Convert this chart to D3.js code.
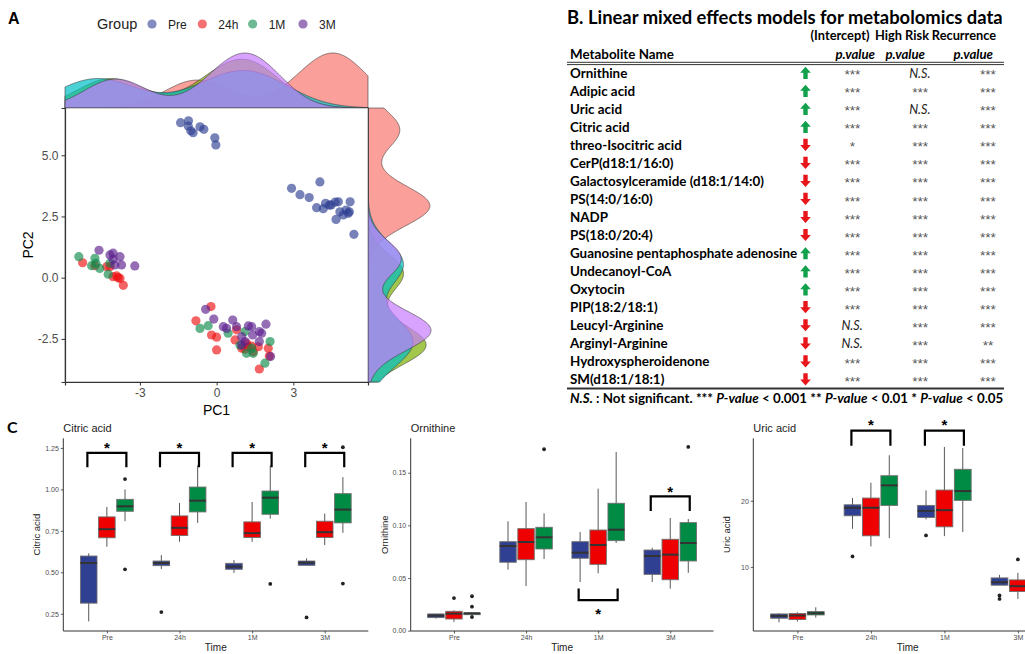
<!DOCTYPE html>
<html>
<head>
<meta charset="utf-8">
<script src="https://cdn.jsdelivr.net/npm/d3@7"></script>
<style>
  body { margin: 0; background: #fff; }
  svg { display: block; font-family: "Liberation Sans", Arial, sans-serif; }
  .tbl text { font-family: Lato, "Open Sans", sans-serif; }
  .tbl text.stars { font-family: "Liberation Sans", Arial, sans-serif; }
</style>
</head>
<body>
<svg id="fig" width="1025" height="654"></svg>
<script>
// ---------------- panel A: PCA scores ----------------
const groups = ["Pre", "24h", "1M", "3M"];
const pcaPre = [
  [-1.41, 6.33], [-1.10, 6.41], [-1.11, 6.19], [-1.01, 6.00], [-0.92, 5.92], [-0.65, 6.16], [-0.50, 6.06],
  [-0.07, 5.71], [-0.03, 5.42],
  [2.93, 3.65], [3.26, 3.39], [3.62, 3.27], [4.04, 3.91], [3.91, 2.86], [4.17, 2.82], [4.26, 3.04],
  [4.41, 2.96], [4.48, 2.97], [4.64, 3.09], [4.76, 3.10], [4.67, 2.38], [4.82, 2.69], [4.95, 2.56],
  [5.06, 2.76], [5.15, 2.63], [5.22, 3.10], [5.19, 2.69], [5.37, 1.77]
];
const pca24h = [
  [-5.24, 0.61], [-4.76, 0.49], [-4.30, 0.45], [-4.17, 0.45], [-4.05, 0.04], [-3.91, 0.07], [-3.85, 0.00],
  [-3.78, -0.03], [-3.65, -0.31],
  [-0.22, -1.18], [-0.81, -1.76], [-0.20, -2.34], [0.00, -2.43], [0.00, -2.95], [0.78, -2.13], [0.72, -2.54],
  [0.98, -2.88], [1.11, -2.92], [1.17, -2.68], [1.24, -2.82], [1.37, -2.79], [1.43, -3.02], [1.63, -2.82],
  [1.67, -3.73], [2.02, -2.88], [2.06, -3.20]
];
const pca1M = [
  [-5.39, 0.86], [-4.76, 0.79], [-4.89, 0.49], [-4.72, 0.59], [-4.57, 0.38], [-4.24, 0.14], [-4.17, 0.59],
  [-0.65, -2.07], [-0.33, -1.96], [0.45, -2.27], [0.91, -2.75], [1.11, -2.20], [1.17, -3.09], [1.43, -3.09],
  [1.89, -3.49], [2.09, -2.61], [1.37, -2.88]
];
const pca3M = [
  [-4.60, 1.12], [-4.17, 0.93], [-4.05, 1.00], [-3.78, 0.86], [-3.72, 0.52], [-3.98, 0.52], [-3.20, 0.48],
  [-4.05, 0.75],
  [-0.43, -1.29], [-0.11, -1.69], [0.26, -2.00], [0.39, -2.07], [0.63, -1.73], [0.78, -2.00], [0.98, -2.41],
  [1.24, -1.97], [1.37, -2.00], [1.41, -2.34], [1.67, -2.20], [1.76, -2.27], [1.67, -2.61], [1.93, -1.90],
  [2.11, -3.22], [1.11, -2.61], [0.98, -2.75]
];
const pcaXTicks = [-3, 0, 3];
const pcaYTicks = [-2.5, 0, 2.5, 5];

// ---------------- panel B: mixed model table ----------------
const metabolites = [
  "Ornithine", "Adipic acid", "Uric acid", "Citric acid", "threo-Isocitric acid", "CerP(d18:1/16:0)",
  "Galactosylceramide (d18:1/14:0)", "PS(14:0/16:0)", "NADP", "PS(18:0/20:4)",
  "Guanosine pentaphosphate adenosine", "Undecanoyl-CoA", "Oxytocin", "PIP(18:2/18:1)",
  "Leucyl-Arginine", "Arginyl-Arginine", "Hydroxyspheroidenone", "SM(d18:1/18:1)"
];
const direction = ["up", "up", "up", "up", "down", "down", "down", "down", "down", "down",
  "up", "up", "up", "down", "down", "down", "down", "down"];
const pIntercept = ["***", "***", "***", "***", "*", "***", "***", "***", "***", "***",
  "***", "***", "***", "***", "N.S.", "N.S.", "***", "***"];
const pHighRisk = ["N.S.", "***", "N.S.", "***", "***", "***", "***", "***", "***", "***",
  "***", "***", "***", "***", "***", "***", "***", "***"];
const pRecurrence = ["***", "***", "***", "***", "***", "***", "***", "***", "***", "***",
  "***", "***", "***", "***", "***", "**", "***", "***"];
const tableCols = ["(Intercept)", "High Risk", "Recurrence"];

// ---------------- panel C: box plot summaries [lower, q1, median, q3, upper, outliers] ----------------
const times = ["Pre", "24h", "1M", "3M"];
const boxSeries = ["G1", "G2", "G3"];
const citricStats = [
  [[0.204, 0.314, 0.556, 0.598, 0.614, []], [0.654, 0.708, 0.760, 0.834, 0.894, []], [0.808, 0.868, 0.898, 0.940, 1.000, [1.062, 0.518]]],
  [[0.520, 0.540, 0.556, 0.568, 0.604, [0.260]], [0.684, 0.722, 0.768, 0.840, 0.918, []], [0.798, 0.864, 0.932, 1.014, 1.145, []]],
  [[0.496, 0.518, 0.534, 0.554, 0.574, []], [0.684, 0.710, 0.736, 0.804, 0.924, []], [0.824, 0.850, 0.950, 0.990, 1.145, [0.430]]],
  [[0.542, 0.542, 0.558, 0.568, 0.584, [0.228]], [0.664, 0.710, 0.742, 0.808, 0.854, []], [0.738, 0.798, 0.878, 0.974, 1.074, [1.254, 0.432]]]
];
const ornithineStats = [
  [[0.0115, 0.0124, 0.0143, 0.0159, 0.0160, []], [0.0083, 0.0111, 0.0162, 0.0184, 0.0194, [0.031]], [0.0150, 0.0152, 0.0165, 0.0168, 0.0170, [0.0327, 0.0228, 0.013]]],
  [[0.058, 0.065, 0.0804, 0.0845, 0.1039, []], [0.0424, 0.0674, 0.0842, 0.0969, 0.1222, []], [0.0681, 0.0776, 0.0887, 0.0982, 0.1115, [0.1723]]],
  [[0.0462, 0.0688, 0.0741, 0.0845, 0.0937, []], [0.0545, 0.063, 0.0814, 0.0956, 0.1349, []], [0.0833, 0.0855, 0.0959, 0.121, 0.1697, []]],
  [[0.0462, 0.0535, 0.0709, 0.0766, 0.0788, []], [0.0399, 0.0484, 0.0722, 0.0868, 0.107, []], [0.055, 0.0662, 0.0833, 0.1026, 0.106, [0.1745]]]
];
const uricStats = [
  [[1.62, 2.23, 2.58, 2.88, 2.98, []], [1.73, 2.03, 2.64, 2.94, 3.14, []], [2.33, 2.73, 2.98, 3.24, 3.89, []]],
  [[15.76, 17.73, 18.94, 19.39, 20.41, [11.58]], [13.09, 14.70, 18.94, 20.41, 22.73, []], [14.35, 19.30, 22.33, 23.79, 26.88, []]],
  [[17.18, 17.48, 18.48, 19.30, 21.57, [14.76]], [14.65, 16.06, 18.59, 21.62, 28.14, []], [15.26, 20.06, 21.47, 24.76, 27.98, []]],
  [[7.23, 7.23, 7.68, 8.33, 8.79, [5.67, 5.15]], [5.15, 6.27, 7.08, 8.03, 9.09, [11.12]], null]
];
// significance brackets: [time, leg end, bar, star]
const citricBrackets = [["Pre", 1.134, 1.22, 1.268], ["24h", 1.134, 1.22, 1.268], ["1M", 1.134, 1.22, 1.268], ["3M", 1.134, 1.22, 1.268]];
const ornithineBrackets = [["1M", 0.040, 0.029, 0.0195], ["3M", 0.1137, 0.1276, 0.1355]];
const uricBrackets = [["24h", 28.33, 30.6, 31.97], ["1M", 28.33, 30.6, 31.97]];

// ---------------- drawing ----------------
const svg = d3.select("#fig");
const pointColor = { "Pre": "#2E3F92", "24h": "#EE1111", "1M": "#0E8A4C", "3M": "#5A1E8E" };
const densColor = { "Pre": "#F8766D", "24h": "#7CAE00", "1M": "#00BFC4", "3M": "#C77CFF" };
const boxColor = ["#2F3F92", "#EE0000", "#008B45"];
const pcaData = { "Pre": pcaPre, "24h": pca24h, "1M": pca1M, "3M": pca3M };

// panel letters
svg.append("text").attr("x", 8).attr("y", 24).attr("font-weight", "bold").attr("font-size", 16).text("A");
svg.append("text").attr("x", 7).attr("y", 433).attr("font-weight", "bold").attr("font-size", 16)
  .attr("font-family", "Lato, sans-serif").text("C");

// ---- panel A ----
const ax = { left: 65, right: 368, top: 108, bottom: 382 };
const xPC = d3.scaleLinear().domain([-5.93, 5.92]).range([ax.left, ax.right]);
const yPC = d3.scaleLinear().domain([-4.26, 6.93]).range([ax.bottom, ax.top]);

// R style kernel density (bw.nrd0, gaussian)
function bwNrd0(v) {
  const s = v.slice().sort(d3.ascending);
  const sd = d3.deviation(s);
  const iqr = d3.quantile(s, 0.75) - d3.quantile(s, 0.25);
  const lo = Math.min(sd, iqr / 1.34) || sd;
  return 0.9 * lo * Math.pow(v.length, -0.2);
}
function kde(v, grid) {
  const h = bwNrd0(v);
  const k = 1 / (h * Math.sqrt(2 * Math.PI));
  return grid.map(g => [g, k * d3.mean(v, x => Math.exp(-0.5 * ((g - x) / h) ** 2))]);
}
const gridX = d3.range(513).map(i => xPC.domain()[0] + i * (xPC.domain()[1] - xPC.domain()[0]) / 512);
const gridY = d3.range(513).map(i => yPC.domain()[0] + i * (yPC.domain()[1] - yPC.domain()[0]) / 512);
const densX = groups.map(gp => kde(pcaData[gp].map(d => d[0]), gridX));
const densY = groups.map(gp => kde(pcaData[gp].map(d => d[1]), gridY));

const topScale = d3.scaleLinear().domain([0, d3.max(densX.flat(), d => d[1])]).range([ax.top, 53]);
const rightScale = d3.scaleLinear().domain([0, d3.max(densY.flat(), d => d[1])]).range([ax.right, 431]);

const topArea = d3.area().x(d => xPC(d[0])).y0(ax.top).y1(d => topScale(d[1])).curve(d3.curveBasis);
const rightArea = d3.area().y(d => yPC(d[0])).x0(ax.right).x1(d => rightScale(d[1])).curve(d3.curveBasis);

svg.append("g").selectAll("path").data(densX).join("path")
  .attr("d", topArea)
  .attr("fill", (d, i) => densColor[groups[i]]).attr("fill-opacity", 0.7)
  .attr("stroke", "#3a3a3a").attr("stroke-width", 0.6);
svg.append("g").selectAll("path").data(densY).join("path")
  .attr("d", rightArea)
  .attr("fill", (d, i) => densColor[groups[i]]).attr("fill-opacity", 0.7)
  .attr("stroke", "#3a3a3a").attr("stroke-width", 0.6);

// scatter panel background + points
svg.append("rect").attr("x", ax.left).attr("y", ax.top)
  .attr("width", ax.right - ax.left).attr("height", ax.bottom - ax.top)
  .attr("fill", "#fff").attr("stroke", "#555").attr("stroke-width", 0.6);

groups.forEach(gp => {
  svg.append("g").selectAll("circle").data(pcaData[gp]).join("circle")
    .attr("cx", d => xPC(d[0])).attr("cy", d => yPC(d[1])).attr("r", 4.6)
    .attr("fill", pointColor[gp]).attr("fill-opacity", 0.65);
});

const pcX = svg.append("g").attr("transform", `translate(0,${ax.bottom})`)
  .call(d3.axisBottom(xPC).tickValues(pcaXTicks).tickFormat(d => String(d)).tickSizeOuter(0).tickSize(3.5).tickPadding(3));
const pcY = svg.append("g").attr("transform", `translate(${ax.left},0)`)
  .call(d3.axisLeft(yPC).tickValues(pcaYTicks).tickFormat(d => d.toFixed(1)).tickSizeOuter(0).tickSize(3.5).tickPadding(3));
[pcX, pcY].forEach(a => {
  a.select(".domain").attr("stroke", "#333").attr("stroke-width", 1.2);
  a.selectAll(".tick line").attr("stroke", "#333");
  a.selectAll(".tick text").attr("font-size", 12).attr("fill", "#4d4d4d")
    .attr("font-family", "Liberation Sans, Arial, sans-serif");
});
svg.append("text").attr("x", (ax.left + ax.right) / 2).attr("y", 415).attr("text-anchor", "middle")
  .attr("font-size", 14).text("PC1");
svg.append("text").attr("transform", `translate(33,${(ax.top + ax.bottom) / 2}) rotate(-90)`)
  .attr("text-anchor", "middle").attr("font-size", 14).text("PC2");

// legend
const leg = svg.append("g");
leg.append("text").attr("x", 97).attr("y", 29).attr("font-size", 14.5).attr("fill", "#222").text("Group");
const legX = d3.scalePoint().domain(groups).range([152, 303]);
groups.forEach(gp => {
  leg.append("circle").attr("cx", legX(gp)).attr("cy", 24).attr("r", 4.6)
    .attr("fill", pointColor[gp]).attr("fill-opacity", 0.6);
  leg.append("text").attr("x", legX(gp) + 16).attr("y", 28.5).attr("font-size", 12).attr("fill", "#222").text(gp);
});

// ---- panel B ----
const tbl = svg.append("g").attr("class", "tbl");
const tblLeft = 567, tblRight = 1004;
function fitText(sel, target) {
  const fs = +sel.attr("font-size");
  const w = sel.node().getComputedTextLength();
  sel.attr("font-size", fs * target / w);
}
const title = tbl.append("text").attr("x", tblLeft).attr("y", 24).attr("font-size", 17.5)
  .attr("font-weight", "bold").text("B. Linear mixed effects models for metabolomics data");
fitText(title, 436);

const headMid = [840, 902, 964];
const pRight = [875, 925, 993];
tableCols.forEach((c, i) => {
  tbl.append("text").attr("x", headMid[i]).attr("y", 39.5).attr("text-anchor", "middle")
    .attr("font-size", 12.8).attr("font-weight", "bold").text(c);
  tbl.append("text").attr("x", pRight[i]).attr("y", 58.5).attr("text-anchor", "end")
    .attr("font-size", 13.2).attr("font-weight", "bold").attr("font-style", "italic").text("p.value");
});
tbl.append("text").attr("x", 570).attr("y", 58.5).attr("font-size", 13.4).attr("font-weight", "bold").text("Metabolite Name");
tbl.append("line").attr("x1", tblLeft).attr("x2", tblRight).attr("y1", 62.3).attr("y2", 62.3).attr("stroke", "#333").attr("stroke-width", 1);
tbl.append("line").attr("x1", tblLeft).attr("x2", tblRight).attr("y1", 64.6).attr("y2", 64.6).attr("stroke", "#333").attr("stroke-width", 1);

const rowY = d3.scalePoint().domain(metabolites).range([72.7, 379.5]);
const colX = d3.scalePoint().domain(tableCols).range([852, 987.5]);
const pvals = [pIntercept, pHighRisk, pRecurrence];

metabolites.forEach((m, i) => {
  const cy = rowY(m);
  tbl.append("text").attr("x", 570).attr("y", cy + 4.8).attr("font-size", 13.4).attr("font-weight", "bold").text(m);
  const up = direction[i] === "up";
  const s = up ? 1 : -1;
  const cx = 805.5;
  const pts = [[0, -6], [5.3, 0], [2.2, 0], [2.2, 6.2], [-2.2, 6.2], [-2.2, 0], [-5.3, 0]]
    .map(p => [cx + p[0], cy + s * p[1]]);
  tbl.append("path").attr("d", d3.line()(pts) + "Z").attr("fill", up ? "#11A04B" : "#E8161B");
  tableCols.forEach((c, j) => {
    const v = pvals[j][i];
    const ns = v === "N.S.";
    tbl.append("text").attr("class", ns ? null : "stars")
      .attr("x", colX(c)).attr("y", cy + (ns ? 4.8 : 6.5)).attr("text-anchor", "middle")
      .attr("font-size", ns ? 12.6 : 13.5).attr("font-style", "italic")
      .attr("fill", ns ? "#222" : "#555").text(v);
  });
});
tbl.append("line").attr("x1", tblLeft).attr("x2", tblRight).attr("y1", 388.5).attr("y2", 388.5)
  .attr("stroke", "#333").attr("stroke-width", 2);

const foot = tbl.append("text").attr("x", 570).attr("y", 403).attr("font-size", 13.5).attr("font-weight", "bold");
[["N.S.", true], [" : Not significant. *** ", false], ["P-value", true], [" < 0.001 ** ", false],
 ["P-value", true], [" < 0.01 * ", false], ["P-value", true], [" < 0.05", false]]
  .forEach(p => foot.append("tspan").attr("font-style", p[1] ? "italic" : "normal").text(p[0]));
fitText(foot, 434);

// ---- panel C ----
function boxPanel(cfg) {
  const top = 438.3, bottom = 631;
  const x = d3.scalePoint().domain(times).range([cfg.left, cfg.right]).padding(0.6);
  const y = d3.scaleLinear().domain(cfg.domain).range([bottom, top]);
  const step = x.step(), dodge = step * 0.25, bw = step * 0.228;
  const g = svg.append("g");

  const xa = g.append("g").attr("transform", `translate(0,${bottom})`)
    .call(d3.axisBottom(x).tickSize(2.5).tickSizeOuter(0).tickPadding(2));
  const ya = g.append("g").attr("transform", `translate(${cfg.left},0)`)
    .call(d3.axisLeft(y).tickValues(cfg.ticks).tickFormat(cfg.fmt).tickSize(2.5).tickSizeOuter(0).tickPadding(2));
  [xa, ya].forEach(a => {
    a.select(".domain").attr("stroke", "#333").attr("stroke-width", 1);
    a.selectAll(".tick line").attr("stroke", "#333").attr("stroke-width", 0.8);
    a.selectAll(".tick text").attr("font-size", 7).attr("fill", "#4d4d4d")
      .attr("font-family", "Liberation Sans, Arial, sans-serif");
  });
  xa.select(".domain").attr("d", `M${cfg.left},0H${cfg.right}`);
  ya.select(".domain").attr("d", `M0,${bottom}V${top}`);

  g.append("text").attr("x", cfg.left).attr("y", 432).attr("font-size", 11).attr("fill", "#222").text(cfg.title);
  g.append("text").attr("x", (cfg.left + cfg.right) / 2).attr("y", 650.5).attr("text-anchor", "middle")
    .attr("font-size", 10).attr("fill", "#222").text("Time");
  g.append("text").attr("transform", `translate(${cfg.left - 23},${(top + bottom) / 2}) rotate(-90)`)
    .attr("text-anchor", "middle").attr("font-size", 9.5).attr("fill", "#222").text(cfg.title);

  cfg.stats.forEach((row, i) => {
    if (!row) return;
    row.forEach((st, j) => {
      if (!st) return;
      const cx = x(times[i]) + (j - 1) * dodge;
      const [lo, q1, med, q3, hi, out] = st;
      g.append("line").attr("x1", cx).attr("x2", cx).attr("y1", y(lo)).attr("y2", y(hi))
        .attr("stroke", "#444").attr("stroke-width", 0.9);
      g.append("rect").attr("x", cx - bw / 2).attr("y", y(q3)).attr("width", bw)
        .attr("height", Math.max(1, y(q1) - y(q3)))
        .attr("fill", boxColor[j]).attr("stroke", "#6e6e6e").attr("stroke-width", 0.9);
      g.append("line").attr("x1", cx - bw / 2).attr("x2", cx + bw / 2).attr("y1", y(med)).attr("y2", y(med))
        .attr("stroke", "#333").attr("stroke-width", 2);
      g.selectAll(null).data(out).join("circle")
        .attr("cx", cx).attr("cy", d => y(d)).attr("r", 1.9).attr("fill", "#222");
    });
  });

  cfg.brackets.forEach(b => {
    const cx = x(b[0]);
    const x1 = cx - 19.5, x2 = cx + 19.5;
    g.append("path")
      .attr("d", `M${x1},${y(b[1])}V${y(b[2])}H${x2}V${y(b[1])}`)
      .attr("fill", "none").attr("stroke", "#000").attr("stroke-width", 2.2);
    g.append("text").attr("x", cx).attr("y", y(b[3]) + 8.5).attr("text-anchor", "middle")
      .attr("font-size", 15).attr("font-weight", "bold").text("*");
  });
}

boxPanel({ title: "Citric acid", left: 63.3, right: 368.3, domain: [0.146, 1.308],
  ticks: [0.25, 0.5, 0.75, 1.0, 1.25], fmt: d3.format(".2f"), stats: citricStats, brackets: citricBrackets });
boxPanel({ title: "Ornithine", left: 410.7, right: 713.5, domain: [-0.0003, 0.1827],
  ticks: [0, 0.05, 0.10, 0.15], fmt: d3.format(".2f"), stats: ornithineStats, brackets: ornithineBrackets });
boxPanel({ title: "Uric acid", left: 753.3, right: 1062, domain: [0.3, 29.45],
  ticks: [10, 20], fmt: d3.format("d"), stats: uricStats, brackets: uricBrackets });
</script>
</body>
</html>
